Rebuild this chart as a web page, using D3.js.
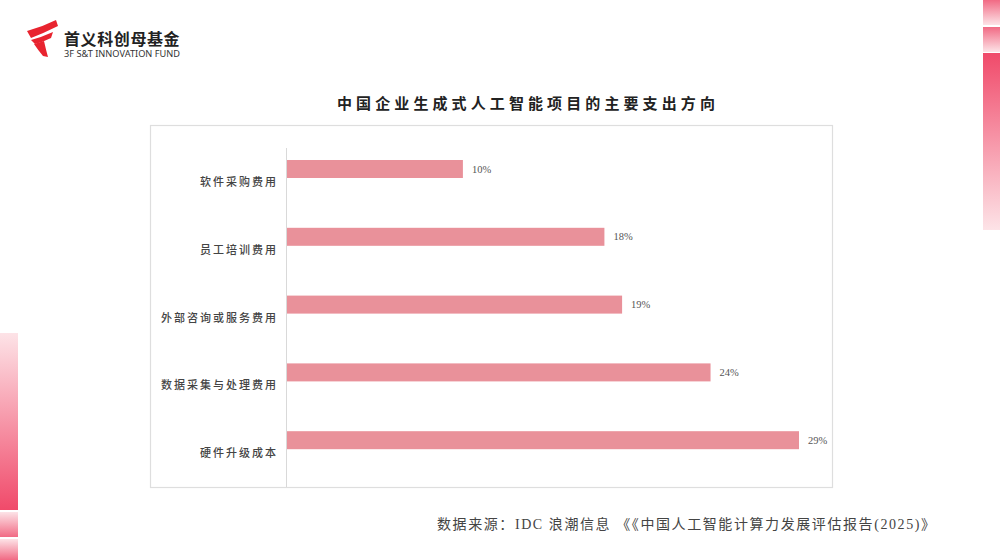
<!DOCTYPE html>
<html><head><meta charset="utf-8">
<script src="https://cdn.jsdelivr.net/npm/d3@7"></script>
<style>html,body{margin:0;padding:0;background:#fff;}svg{display:block;}</style>
</head><body>
<svg id="chart" width="1000" height="560"></svg>
<script>
const categories = ["软件采购费用","员工培训费用","外部咨询或服务费用","数据采集与处理费用","硬件升级成本"];
const values = [10, 18, 19, 24, 29];
const valueLabels = ["10%","18%","19%","24%","29%"];
const title = "中国企业生成式人工智能项目的主要支出方向";
const source = "数据来源：IDC  浪潮信息 《《中国人工智能计算力发展评估报告(2025)》";
const brandCN = "首义科创母基金";
const brandEN = "3F S&T INNOVATION FUND";

const svg = d3.select("#chart");
const defs = svg.append("defs");
function grad(id, stops){
  const g = defs.append("linearGradient").attr("id", id).attr("x1",0).attr("y1",0).attr("x2",0).attr("y2",1);
  stops.forEach(s => g.append("stop").attr("offset", s[0]).attr("stop-color", s[1]));
}
grad("gDown", [[0,"#f04a6a"],[1,"#fde3e7"]]);
grad("gUp", [[0,"#fde3e7"],[1,"#f04a6a"]]);
grad("gSmallDown", [[0,"#f16a84"],[1,"#fde3e7"]]);
grad("gSmallUp", [[0,"#fde3e7"],[1,"#f16a84"]]);

// decorative side strips
svg.append("rect").attr("x",983).attr("y",0).attr("width",17).attr("height",25).attr("fill","url(#gSmallDown)");
svg.append("rect").attr("x",983).attr("y",27).attr("width",17).attr("height",25).attr("fill","url(#gSmallDown)");
svg.append("rect").attr("x",983).attr("y",53).attr("width",17).attr("height",177).attr("fill","url(#gDown)");
svg.append("rect").attr("x",0).attr("y",333).attr("width",18).attr("height",177).attr("fill","url(#gUp)");
svg.append("rect").attr("x",0).attr("y",512).attr("width",18).attr("height",25).attr("fill","url(#gSmallUp)");
svg.append("rect").attr("x",0).attr("y",539).attr("width",18).attr("height",21).attr("fill","url(#gSmallUp)");

// logo
const logo = svg.append("g").attr("fill","#e8242f");
logo.append("path").attr("d","M27,31 Q42,27 56,20 L58,26 Q44,33 31,38 Z");
logo.append("path").attr("d","M31,40 Q42,37 53,32 L51,38 Q43,42 35,44 Z");
logo.append("path").attr("d","M34,44 L44,41 Q46,50 48,57 L43,56 Q38,50 34,44 Z");
svg.append("text").attr("x",64).attr("y",45).text(brandCN)
  .attr("font-family","'Noto Sans CJK SC'").attr("font-weight",700).attr("font-size",16)
  .attr("letter-spacing",0.6).attr("fill","#222");
svg.append("text").attr("x",64).attr("y",57).text(brandEN)
  .attr("font-family","'Noto Sans', sans-serif").attr("font-size",8.5)
  .attr("textLength",116).attr("lengthAdjust","spacingAndGlyphs").attr("fill","#333");

// title
svg.append("text").attr("x",528).attr("y",109).attr("text-anchor","middle").text(title)
  .attr("font-family","'Noto Sans CJK SC'").attr("font-weight",700).attr("font-size",15)
  .attr("letter-spacing",4.1).attr("fill","#222");

// chart frame
svg.append("rect").attr("x",150.5).attr("y",125.5).attr("width",682).attr("height",362)
  .attr("fill","#fff").attr("stroke","#dedede").attr("stroke-width",1.2);

const x = d3.scaleLinear().domain([0, 29]).range([286, 799]);
const y = d3.scaleBand().domain(categories).range([148, 487]);
const barOffset = 12, barH = 18;

// axis line
svg.append("line").attr("x1",286.5).attr("x2",286.5).attr("y1",148).attr("y2",487)
  .attr("stroke","#d9d9d9").attr("stroke-width",1);

svg.append("g").selectAll("rect").data(categories).join("rect")
  .attr("x", x(0) + 1)
  .attr("y", c => y(c) + barOffset)
  .attr("width", (c,i) => x(values[i]) - x(0) - 1)
  .attr("height", barH)
  .attr("fill", "#e9919a");

svg.append("g").selectAll("text").data(categories).join("text")
  .attr("x", (c,i) => x(values[i]) + 9)
  .attr("y", c => y(c) + barOffset + barH/2 + 3.5)
  .text((c,i) => valueLabels[i])
  .attr("font-family","'Liberation Serif', serif").attr("font-size",10.5).attr("fill","#555");

svg.append("g").selectAll("text").data(categories).join("text")
  .attr("x", 278)
  .attr("y", c => y(c) + y.bandwidth()/2 + 4)
  .attr("text-anchor","end")
  .attr("letter-spacing",2)
  .text(c => c)
  .attr("font-family","'Noto Sans CJK SC'").attr("font-weight",500).attr("font-size",11).attr("fill","#444");

// source
svg.append("text").attr("x",437).attr("y",529).text(source)
  .attr("font-family","'Liberation Serif', 'Noto Sans CJK SC'").attr("font-size",14).attr("fill","#444")
  .attr("textLength",498).attr("lengthAdjust","spacing");
</script>
</body></html>
